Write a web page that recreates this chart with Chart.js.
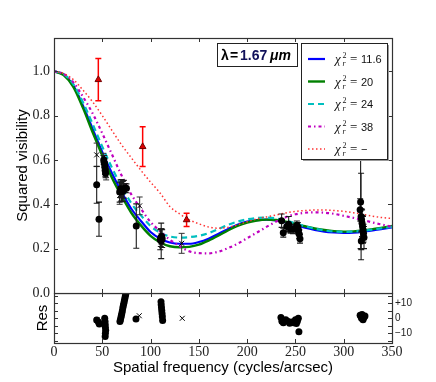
<!DOCTYPE html>
<html>
<head>
<meta charset="utf-8">
<script src="https://cdn.jsdelivr.net/npm/chart.js@4.4.1/dist/chart.umd.min.js"></script>
<style>
  html, body { margin: 0; padding: 0; background: #fff; }
  #wrap { position: relative; width: 436px; height: 382px; }
  #main-chart { position: absolute; left: 0; top: 0; z-index: 2; }
  #res-chart { position: absolute; left: 0; top: 293px; z-index: 1; }
</style>
</head>
<body>
<div id="wrap">
  <canvas id="main-chart" width="436" height="310"></canvas>
  <canvas id="res-chart" width="436" height="89"></canvas>
</div>
<script>
// model curves, sampled every 10 cycles/arcsec
const modelFreq = [0, 10, 20, 30, 40, 50, 60, 70, 80, 90, 100, 110, 120, 130, 140, 150, 160, 170,
    180, 190, 200, 210, 220, 230, 240, 250, 260, 270, 280, 290, 300, 310, 320, 330, 340, 350];
const modelChi116 = [1.0, 0.985, 0.935, 0.845, 0.74, 0.635, 0.54, 0.455, 0.38, 0.325, 0.275, 0.245,
    0.228, 0.222, 0.222, 0.23, 0.245, 0.266, 0.288, 0.308, 0.322, 0.329, 0.331, 0.327, 0.318, 0.306,
    0.295, 0.285, 0.277, 0.273, 0.271, 0.272, 0.276, 0.282, 0.289, 0.296];
const modelChi20 = [1.0, 0.983, 0.93, 0.835, 0.725, 0.62, 0.52, 0.437, 0.362, 0.305, 0.258, 0.228,
    0.211, 0.206, 0.208, 0.218, 0.236, 0.258, 0.282, 0.303, 0.318, 0.327, 0.331, 0.329, 0.322, 0.312,
    0.301, 0.291, 0.284, 0.279, 0.277, 0.278, 0.282, 0.288, 0.295, 0.302];
const modelChi24 = [1.0, 0.987, 0.942, 0.86, 0.762, 0.66, 0.565, 0.48, 0.405, 0.35, 0.302, 0.272,
    0.255, 0.25, 0.252, 0.258, 0.27, 0.288, 0.307, 0.322, 0.332, 0.338, 0.34, 0.336, 0.327, 0.314,
    0.301, 0.29, 0.282, 0.277, 0.276, 0.277, 0.281, 0.286, 0.292, 0.298];
const modelChi38 = [1.0, 0.988, 0.95, 0.885, 0.81, 0.72, 0.625, 0.53, 0.445, 0.38, 0.32, 0.278,
    0.24, 0.212, 0.188, 0.18, 0.179, 0.186, 0.202, 0.222, 0.247, 0.272, 0.298, 0.322, 0.342, 0.355,
    0.362, 0.364, 0.362, 0.357, 0.348, 0.339, 0.329, 0.318, 0.308, 0.298];
const modelChiNone = [1.0, 0.99, 0.963, 0.915, 0.862, 0.8, 0.733, 0.668, 0.61, 0.553, 0.5, 0.45,
    0.39, 0.357, 0.33, 0.312, 0.298, 0.292, 0.296, 0.307, 0.321, 0.334, 0.343, 0.352, 0.361, 0.368,
    0.372, 0.374, 0.374, 0.372, 0.368, 0.362, 0.354, 0.346, 0.34, 0.336];

// measured squared visibilities (filled circles)
const dotFreq = [44.2, 46.6, 51.5, 52.2, 52.6, 53.0, 53.4, 68.0, 69.0, 70.0, 71.2, 72.3, 73.6, 75.0,
    85.2, 110.0, 110.6, 111.0, 111.5, 112.0, 235.7, 237.4, 241.0, 243.0, 245.0, 247.5, 250.0, 251.5,
    252.5, 253.2, 254.0, 254.7, 317.0, 317.5, 318.0, 318.5, 319.0, 319.5, 320.0, 320.5, 321.0, 318.2];
const dotVis = [0.488, 0.333, 0.600, 0.585, 0.570, 0.555, 0.540, 0.455, 0.470, 0.462, 0.458, 0.468,
    0.474, 0.472, 0.302, 0.240, 0.250, 0.235, 0.255, 0.245, 0.326, 0.272, 0.300, 0.310, 0.290, 0.287,
    0.290, 0.305, 0.298, 0.283, 0.265, 0.245, 0.375, 0.410, 0.345, 0.330, 0.315, 0.300, 0.285, 0.270,
    0.250, 0.235];
const dotErr = [0.083, 0.077, 0.02, 0.02, 0.02, 0.02, 0.02, 0.045, 0.04, 0.05, 0.045, 0.04, 0.02, 0.02,
    0.10, 0.045, 0.04, 0.08, 0.035, 0.04, 0.03, 0.02, 0.02, 0.035, 0.02, 0.02, 0.02, 0.02,
    0.02, 0.02, 0.02, 0.02, 0.05, 0.21, 0.195, 0.05, 0.06, 0.05, 0.06, 0.04, 0.05, 0.04];

// measured squared visibilities (crosses)
const crossFreq = [44.2, 51.0, 52.0, 52.8, 53.2, 54.0, 68.0, 69.5, 88.7, 110.8, 132.2];
const crossVis = [0.623, 0.610, 0.600, 0.565, 0.545, 0.530, 0.440, 0.455, 0.393, 0.260, 0.224];
const crossErr = [0.053, 0.02, 0.02, 0.02, 0.02, 0.02, 0.04, 0.04, 0.04, 0.03, 0.045];

// red triangles
const triFreq = [45.9, 91.8, 137.3];
const triVis = [0.962, 0.66, 0.33];
const triErr = [0.095, 0.09, 0.03];

// residuals
const resDotFreq = [44.2, 46.0, 46.9, 52.5, 52.8, 53.0, 53.2, 53.5, 53.2, 53.0, 68.3, 68.8, 69.3,
    69.8, 70.3, 70.8, 71.3, 71.8, 72.3, 72.8, 73.3, 73.8, 74.3, 84.9, 110.8, 111.0, 111.3, 111.6,
    111.9, 112.2, 112.5, 235.0, 236.0, 237.5, 240.0, 242.0, 244.0, 246.0, 248.0, 250.0, 251.0,
    252.0, 253.0, 253.6, 317.0, 318.0, 318.5, 319.0, 319.5, 320.0, 321.0, 322.0];
const resDotVal = [-1.1, -2.5, -3.8, 0, -2, -4, -6, -8, -10, -12.2, -2.2, -1, 0.5,
    2, 3.5, 5, 7, 8.5, 10, 11.5, 13, 14.5, 16, -0.5, 11, 9, 7, 5,
    3, 1, -1.5, 0.5, -2, -3, -1, -2, -3.3, -2.5, -3, -1, -3.5,
    -2, 0, -9, 2, 1, 0, 2.5, 1, -1, 0.5, 1.5];
const resCrossFreq = [44.5, 88.3, 132.8];
const resCrossVal = [-1, 1.7, 0];

const freqTicks = [0, 50, 100, 150, 200, 250, 300, 350];
const visTicks = [0.0, 0.2, 0.4, 0.6, 0.8, 1.0];
const resTicks = [-10, 0, 10];
const resMinorTicks = [-15, -10, -5, 0, 5, 10, 15];

const legendLabels = ["11.6", "20", "24", "38", "\u2212"];

const pts = (xs, ys) => xs.map((x, i) => ({ x: x, y: ys[i] }));

const serif = '"Liberation Serif", "Times New Roman", serif';
const sans = '"Liberation Sans", Arial, sans-serif';

const lineStyles = [
    { color: "#0000ff", width: 2.2, dash: [] },
    { color: "#008000", width: 2.4, dash: [] },
    { color: "#00bfbf", width: 2.2, dash: [6, 4] },
    { color: "#bf00bf", width: 2.2, dash: [3, 3, 1.5, 3] },
    { color: "#ff3333", width: 1.5, dash: [1.5, 2.5] },
];

// draw error bars just before each dataset's markers
const errorBars = {
    id: "errorBars",
    beforeDatasetDraw(chart, args) {
        const ds = chart.data.datasets[args.index];
        if (!ds.errors) return;
        const ctx = chart.ctx;
        const xs = chart.scales.x;
        const ys = chart.scales.y;
        ctx.save();
        ctx.strokeStyle = ds.errColor;
        ctx.lineWidth = ds.errWidth;
        ctx.beginPath();
        ds.data.forEach((p, i) => {
            const e = ds.errors[i];
            const px = xs.getPixelForValue(p.x);
            const y1 = ys.getPixelForValue(p.y + e);
            const y2 = ys.getPixelForValue(p.y - e);
            ctx.moveTo(px, y1); ctx.lineTo(px, y2);
            ctx.moveTo(px - 3, y1); ctx.lineTo(px + 3, y1);
            ctx.moveTo(px - 3, y2); ctx.lineTo(px + 3, y2);
        });
        ctx.stroke();
        ctx.restore();
    },
};

// frame with inward ticks (matplotlib look)
const frameTicks = {
    id: "frameTicks",
    afterDraw(chart, args, opts) {
        const { ctx, chartArea: a } = chart;
        const xs = chart.scales.x;
        const ys = chart.scales.y;
        ctx.save();
        ctx.strokeStyle = "#333";
        ctx.lineWidth = 1;
        ctx.beginPath();
        freqTicks.forEach((v) => {
            const px = Math.round(xs.getPixelForValue(v)) + 0.5;
            ctx.moveTo(px, a.top); ctx.lineTo(px, a.top + 4);
            ctx.moveTo(px, a.bottom); ctx.lineTo(px, a.bottom - 4);
        });
        opts.yTicks.forEach((v) => {
            const py = Math.round(ys.getPixelForValue(v)) + 0.5;
            ctx.moveTo(a.left, py); ctx.lineTo(a.left + 4, py);
            ctx.moveTo(a.right, py); ctx.lineTo(a.right - 4, py);
        });
        ctx.stroke();
        ctx.lineWidth = 1.2;
        ctx.strokeRect(Math.round(a.left) + 0.5, Math.round(a.top) + 0.5,
            Math.round(a.right - a.left), Math.round(a.bottom - a.top));
        ctx.restore();

        if (opts.legend) drawLegend(ctx, a);
    },
};

function boxWithShadow(ctx, x, y, w, h, shadow) {
    if (shadow) {
        ctx.fillStyle = "#999";
        ctx.fillRect(x + 2, y + 2, w, h);
    }
    ctx.fillStyle = "#fff";
    ctx.fillRect(x, y, w, h);
    ctx.strokeStyle = "#222";
    ctx.lineWidth = 1;
    ctx.strokeRect(x + 0.5, y + 0.5, w, h);
}

function drawLegend(ctx, a) {
    ctx.save();
    // wavelength box
    const lx = a.right - 175, ly = a.top + 5;
    boxWithShadow(ctx, lx, ly, 80, 23, false);
    ctx.textBaseline = "alphabetic";
    ctx.textAlign = "left";
    ctx.fillStyle = "#000";
    ctx.font = "bold 14px " + sans;
    ctx.fillText("\u03bb", lx + 4, ly + 17);
    ctx.fillText("=", lx + 13, ly + 17);
    ctx.fillStyle = "#10105a";
    ctx.fillText("1.67", lx + 23, ly + 17);
    ctx.fillStyle = "#000";
    ctx.font = "italic bold 14px " + sans;
    ctx.fillText("\u03bcm", lx + 53, ly + 17);

    // model legend box
    const bx = a.right - 91, by = a.top + 5, bw = 86, bh = 116;
    boxWithShadow(ctx, bx, by, bw, bh, true);
    lineStyles.forEach((s, i) => {
        const y = by + 16 + i * 22.5;
        ctx.strokeStyle = s.color;
        ctx.lineWidth = s.width;
        ctx.setLineDash(s.dash);
        ctx.beginPath();
        ctx.moveTo(bx + 7, y); ctx.lineTo(bx + 24, y);
        ctx.stroke();
        ctx.setLineDash([]);
        ctx.fillStyle = "#111";
        const tx = bx + 34;
        ctx.font = "italic 13px " + serif;
        ctx.fillText("\u03c7", tx, y + 4);
        ctx.font = "8px " + serif;
        ctx.fillText("2", tx + 7.5, y - 1);
        ctx.font = "italic 8px " + serif;
        ctx.fillText("r", tx + 7.5, y + 7);
        ctx.font = "13px " + serif;
        ctx.fillText("=", tx + 15, y + 4);
        ctx.font = "11px " + sans;
        ctx.fillText(legendLabels[i], tx + 26, y + 4);
    });
    ctx.restore();
}

const modelSets = [modelChiNone, modelChi38, modelChi24, modelChi20, modelChi116];
const modelStyleIdx = [4, 3, 2, 1, 0];

const mainDatasets = [
    {
        data: pts(dotFreq, dotVis), errors: dotErr, errColor: "#1a1a1a", errWidth: 1.1,
        pointStyle: "circle", pointRadius: 3.5, backgroundColor: "#000", borderColor: "#000", borderWidth: 0,
    },
    {
        data: pts(crossFreq, crossVis), errors: crossErr, errColor: "#333", errWidth: 1,
        pointStyle: "crossRot", pointRadius: 3.5, backgroundColor: "#000", borderColor: "#000", borderWidth: 1,
    },
    {
        data: pts(triFreq, triVis), errors: triErr, errColor: "#ff0000", errWidth: 1.5,
        pointStyle: "triangle", pointRadius: 3.8, backgroundColor: "#dd0000", borderColor: "#700000", borderWidth: 1,
    },
];
modelSets.forEach((m, k) => {
    const s = lineStyles[modelStyleIdx[k]];
    mainDatasets.push({
        type: "line",
        data: pts(modelFreq, m),
        borderColor: s.color,
        borderWidth: s.width,
        borderDash: s.dash,
        borderCapStyle: "butt",
        pointRadius: 0,
        fill: false,
        cubicInterpolationMode: "monotone",
    });
});

new Chart(document.getElementById("main-chart"), {
    type: "scatter",
    data: { datasets: mainDatasets },
    options: {
        responsive: false,
        animation: false,
        events: [],
        layout: { autoPadding: false, padding: { top: 38, bottom: 17, right: 44, left: 0 } },
        plugins: {
            legend: { display: false },
            tooltip: { enabled: false },
            frameTicks: { yTicks: visTicks, legend: true },
        },
        scales: {
            x: { type: "linear", min: 0, max: 350, display: false },
            y: {
                type: "linear", min: 0, max: 1.15, position: "left",
                afterFit(s) { s.width = 54; s.paddingTop = 0; s.paddingBottom = 0; },
                afterBuildTicks(s) { s.ticks = visTicks.map((v) => ({ value: v })); },
                grid: { display: false, drawTicks: false },
                border: { display: false },
                ticks: { font: { family: serif, size: 14 }, color: "#222", padding: 4, callback: (v) => v.toFixed(1) },
                title: {
                    display: true, text: "Squared visibility", color: "#000",
                    font: { family: sans, size: 15 }, padding: { top: 14, bottom: 0 },
                },
            },
        },
    },
    plugins: [errorBars, frameTicks],
});

new Chart(document.getElementById("res-chart"), {
    type: "scatter",
    data: {
        datasets: [
            {
                data: pts(resDotFreq, resDotVal),
                pointStyle: "circle", pointRadius: 3.5, backgroundColor: "#000", borderColor: "#000", borderWidth: 0,
            },
            {
                data: pts(resCrossFreq, resCrossVal),
                pointStyle: "crossRot", pointRadius: 3.5, borderColor: "#000", borderWidth: 1,
            },
        ],
    },
    options: {
        responsive: false,
        animation: false,
        events: [],
        layout: { autoPadding: false, padding: 0 },
        plugins: {
            legend: { display: false },
            tooltip: { enabled: false },
            frameTicks: { yTicks: resMinorTicks, legend: false },
        },
        scales: {
            x: {
                type: "linear", min: 0, max: 350, position: "bottom",
                afterFit(s) { s.height = 39; s.paddingLeft = 0; s.paddingRight = 0; },
                afterBuildTicks(s) { s.ticks = freqTicks.map((v) => ({ value: v })); },
                grid: { display: false, drawTicks: false },
                border: { display: false },
                ticks: { font: { family: serif, size: 14 }, color: "#222", padding: 1, maxRotation: 0 },
                title: {
                    display: true, text: "Spatial frequency (cycles/arcsec)", color: "#000",
                    font: { family: sans, size: 15 }, padding: { top: 0, bottom: 5 },
                },
            },
            y: {
                type: "linear", min: -16.5, max: 16.9, position: "left",
                afterFit(s) { s.width = 54; s.paddingTop = 0; s.paddingBottom = 0; },
                grid: { display: false, drawTicks: false },
                border: { display: false },
                ticks: { display: false },
                title: {
                    display: true, text: "Res", color: "#000",
                    font: { family: sans, size: 15 }, padding: { top: 34, bottom: 0 },
                },
            },
            yRight: {
                type: "linear", min: -16.5, max: 16.9, position: "right",
                afterFit(s) { s.width = 44; s.paddingTop = 0; s.paddingBottom = 0; },
                afterBuildTicks(s) { s.ticks = resTicks.map((v) => ({ value: v })); },
                grid: { display: false, drawTicks: false },
                border: { display: false },
                ticks: {
                    font: { family: sans, size: 10 }, color: "#222", padding: 3,
                    callback: (v) => (v > 0 ? "+" + v : v < 0 ? "\u2212" + Math.abs(v) : "0"),
                },
            },
        },
    },
    plugins: [frameTicks],
});
</script>
</body>
</html>
